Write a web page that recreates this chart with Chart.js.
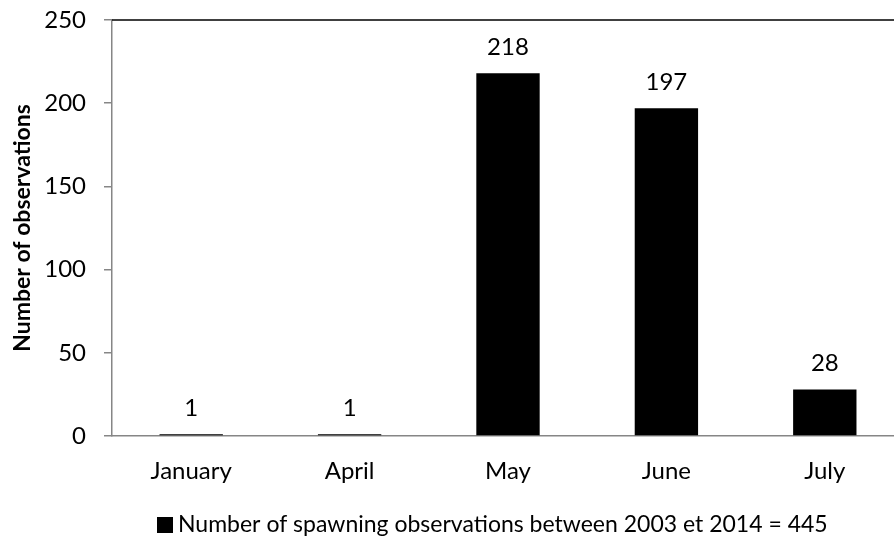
<!DOCTYPE html>
<html>
<head>
<meta charset="utf-8">
<script src="https://cdn.jsdelivr.net/npm/chart.js@4"></script>
<style>
  html, body { margin: 0; padding: 0; background: #fff; overflow: hidden; width: 894px; height: 540px; }
  #wrap { width: 904px; height: 540px; }
</style>
</head>
<body>
<div id="wrap"><canvas id="myChart" width="904" height="540"></canvas></div>
<script>
// chart data
const months = ['January', 'April', 'May', 'June', 'July'];
const observations = [1, 1, 218, 197, 28];
const yMin = 0, yMax = 250, yStep = 50;
const seriesLabel = 'Number of spawning observations between 2003 et 2014 = 445';
const yTitle = 'Number of observations';

const FONT = 'Lato, "Open Sans", sans-serif';
Chart.defaults.font.family = FONT;
Chart.defaults.color = '#000';

// value labels above each bar
const barValues = {
    id: 'barValues',
    afterDatasetsDraw(chart) {
        const c = chart.ctx;
        const meta = chart.getDatasetMeta(0);
        c.save();
        c.font = '24px ' + FONT;
        c.fillStyle = '#000';
        c.textAlign = 'center';
        c.textBaseline = 'middle';
        meta.data.forEach((bar, i) => {
            c.fillText(String(chart.data.datasets[0].data[i]), bar.x, bar.y - 26);
        });
        c.restore();
    }
};

// black line along the top of the plot + legend under the axis
const extras = {
    id: 'extras',
    afterDraw(chart) {
        const c = chart.ctx;
        const a = chart.chartArea;
        c.save();
        c.strokeStyle = '#000';
        c.lineWidth = 1.5;
        c.beginPath();
        c.moveTo(a.left, a.top);
        c.lineTo(chart.width, a.top);
        c.stroke();

        // legend
        c.fillStyle = '#000';
        c.fillRect(157, 517, 16, 16);
        c.font = '23px ' + FONT;
        c.textAlign = 'left';
        c.textBaseline = 'middle';
        c.fillText(chart.data.datasets[0].label, 178, 525);
        c.restore();
    }
};

const ctx = document.getElementById('myChart').getContext('2d');
const chart = new Chart(ctx, {
    type: 'bar',
    data: {
        labels: months,
        datasets: [{
            label: seriesLabel,
            data: observations,
            backgroundColor: '#000',
            borderWidth: 0,
            barPercentage: 0.4,
            categoryPercentage: 1.0
        }]
    },
    options: {
        responsive: false,
        animation: false,
        devicePixelRatio: 1,
        layout: { padding: { top: 20, left: 0, right: 0, bottom: 44 } },
        plugins: {
            legend: { display: false },
            tooltip: { enabled: false }
        },
        scales: {
            x: {
                afterFit: s => { s.height = 60; },
                grid: { display: false, drawTicks: false },
                border: { display: true, color: '#868686', width: 1.5 },
                ticks: { padding: 21, font: { size: 24 }, color: '#000' }
            },
            y: {
                min: yMin,
                max: yMax,
                afterFit: s => { s.width = 112; s.paddingTop = 0; s.paddingBottom = 0; },
                grid: { drawOnChartArea: false, drawTicks: true, tickLength: 8, color: '#868686', lineWidth: 1.5 },
                border: { display: true, color: '#868686', width: 1.5 },
                ticks: { stepSize: yStep, padding: 18, font: { size: 24 }, color: '#000' },
                title: {
                    display: true,
                    text: yTitle,
                    font: { size: 23, weight: 'bold' },
                    color: '#000',
                    padding: { top: 9, bottom: 0 }
                }
            }
        }
    },
    plugins: [barValues, extras]
});
</script>
</body>
</html>
